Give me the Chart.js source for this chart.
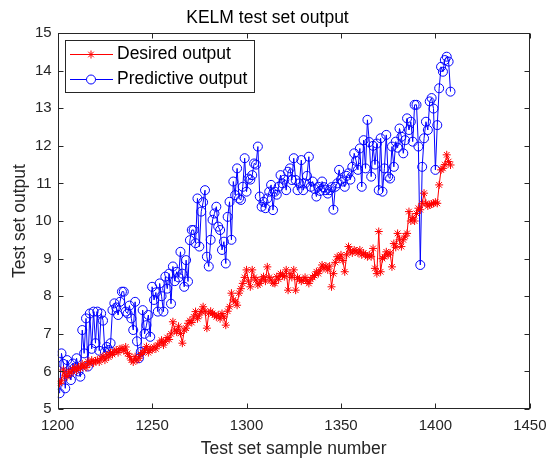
<!DOCTYPE html>
<html>
<head>
<meta charset="utf-8">
<script src="https://cdn.jsdelivr.net/npm/chart.js@4.4.1/dist/chart.umd.min.js"></script>
<style>
html, body { margin: 0; padding: 0; background: #fff; }
#wrap { width: 554px; height: 458px; }
</style>
</head>
<body>
<div id="wrap"><canvas id="chartKelm"></canvas></div>
<script>
// ================================
// DATOS
// ================================
const firstSample = 1201;

const desiredOutput = [
    5.68, 5.75, 6.04, 5.9, 5.86, 6.0, 5.95, 6.05, 6.1, 6.02,
    6.12, 6.08, 6.2, 6.15, 6.1, 6.26, 6.2, 6.3, 6.22, 6.28,
    6.3, 6.25, 6.35, 6.4, 6.3, 6.44, 6.38, 6.5, 6.45, 6.52,
    6.57, 6.5, 6.6, 6.61, 6.55, 6.65, 6.48, 6.4, 6.3, 6.25,
    6.39, 6.3, 6.35, 6.45, 6.5, 6.55, 6.66, 6.5, 6.6, 6.57,
    6.65, 6.6, 6.7, 6.75, 6.83, 6.7, 6.8, 6.9, 6.85, 7.0,
    7.32, 7.1, 7.05, 7.2, 7.01, 6.75, 7.1, 7.15, 7.28, 7.35,
    7.3, 7.45, 7.59, 7.4, 7.5, 7.6, 7.72, 7.6, 7.15, 7.55,
    7.6, 7.54, 7.5, 7.45, 7.5, 7.4, 7.54, 7.45, 7.23, 7.6,
    7.72, 8.08, 7.9, 7.85, 7.76, 8.08, 8.2, 8.34, 8.5, 8.7,
    8.4, 8.25, 8.7, 8.5, 8.43, 8.3, 8.34, 8.45, 8.52, 8.4,
    8.78, 8.5, 8.43, 8.35, 8.34, 8.52, 8.45, 8.6, 8.55, 8.52,
    8.7, 8.16, 8.6, 8.5, 8.7, 8.16, 8.5, 8.45, 8.4, 8.43,
    8.5, 8.4, 8.34, 8.45, 8.5, 8.55, 8.65, 8.6, 8.7, 8.83,
    8.75, 8.8, 8.7, 8.8, 8.25, 8.6, 8.9, 9.05, 9.0, 9.1,
    8.95, 8.65, 9.1, 9.32, 9.2, 9.15, 9.23, 9.2, 9.15, 9.23,
    9.1, 9.15, 9.1, 9.05, 9.1, 9.05, 9.27, 8.74, 8.6, 9.72,
    8.65, 9.0, 9.05, 9.18, 9.1, 9.15, 8.78, 9.4, 9.3, 9.67,
    9.5, 9.32, 9.5, 9.6, 9.67, 10.25, 10.0, 10.1, 10.0, 10.2,
    10.34, 10.3, 10.47, 10.74, 10.47, 10.4, 10.43, 10.45, 10.47, 10.5,
    10.47, 10.96, 11.36, 11.4, 11.5, 11.76, 11.58, 11.49
];

const predictiveOutput = [
    5.42, 6.48, 6.2, 5.55, 6.3, 5.95, 5.77, 6.21, 6.1, 6.35,
    6.0, 5.86, 7.1, 6.48, 7.41, 6.13, 7.54, 6.6, 7.59, 6.75,
    7.59, 6.55, 7.54, 7.35, 6.52, 6.65, 6.57, 6.75, 7.63, 7.81,
    7.7, 7.5, 7.85, 8.12, 8.12, 7.59, 7.54, 7.75, 7.41, 7.1,
    7.85, 6.8, 6.35, 6.52, 7.63, 7.0, 7.23, 7.5, 6.92, 8.25,
    7.9, 8.1, 7.59, 8.34, 8.0, 7.59, 8.52, 8.2, 8.6, 7.8,
    8.79, 8.4, 8.65, 8.5, 9.18, 8.6, 8.25, 8.96, 8.39, 9.49,
    9.76, 9.76, 9.41, 10.6, 9.32, 10.25, 10.5, 10.82, 9.05, 8.79,
    9.5, 10.03, 10.2, 10.38, 9.85, 9.76, 9.23, 9.45, 8.87, 10.11,
    10.51, 9.5, 11.05, 10.69, 11.4, 10.6, 10.56, 10.91, 11.67, 10.78,
    11.13, 11.1, 11.22, 11.53, 11.5, 11.98, 10.65, 10.38, 10.51, 10.34,
    10.6, 10.78, 10.96, 10.29, 10.78, 10.7, 10.91, 11.22, 11.0, 11.1,
    10.82, 11.31, 11.4, 11.09, 11.67, 11.09, 10.82, 11.0, 11.62, 10.82,
    11.0, 11.2, 11.71, 10.91, 11.05, 10.85, 10.65, 10.91, 10.8, 11.05,
    10.9, 10.82, 10.73, 10.82, 10.9, 10.3, 10.91, 11.0, 11.36, 11.1,
    11.05, 10.91, 11.2, 11.27, 11.1, 11.44, 11.8, 11.6, 11.36, 11.93,
    10.91, 12.15, 11.4, 12.69, 12.1, 11.18, 12.0, 11.5, 12.06, 10.82,
    12.2, 10.78, 11.4, 12.29, 11.18, 11.13, 11.98, 11.44, 12.11, 11.95,
    12.46, 12.24, 11.8, 12.15, 12.73, 12.42, 12.64, 12.11, 13.09, 13.09,
    11.98, 8.83, 11.44, 12.2, 12.64, 12.42, 13.18, 13.27, 12.99, 11.36,
    12.55, 13.53, 14.1, 13.97, 14.28, 14.37, 14.24, 13.44
];

const xTicks = [1200, 1250, 1300, 1350, 1400, 1450];
const yTicks = [5, 6, 7, 8, 9, 10, 11, 12, 13, 14, 15];

const seriesNames = ["Desired output", "Predictive output"];

// ================================
// MARCO, TICKS INTERIORES Y LEYENDA (estilo MATLAB)
// ================================
function linea(ctx, x1, y1, x2, y2) {
    ctx.beginPath();
    ctx.moveTo(x1, y1);
    ctx.lineTo(x2, y2);
    ctx.stroke();
}

const fuente = "'Liberation Sans', Arial, sans-serif";

const marcoMatlab = {
    id: "marcoMatlab",
    afterDatasetsDraw(chart) {
        const { ctx, chartArea: a, scales } = chart;
        ctx.save();

        // leyenda
        const lx = Math.round(a.left) + 7, ly = Math.round(a.top) + 7, lw = 189, lh = 52;
        ctx.fillStyle = "#fff";
        ctx.fillRect(lx, ly, lw, lh);
        ctx.strokeStyle = "#262626";
        ctx.lineWidth = 1;
        ctx.strokeRect(lx + 0.5, ly + 0.5, lw, lh);

        const filas = [ly + 14, ly + 39];
        ctx.font = "17.5px " + fuente;
        ctx.textBaseline = "middle";
        chart.data.datasets.forEach((ds, i) => {
            const y = filas[i] + 0.5;
            const cx = lx + 26;
            ctx.strokeStyle = ds.borderColor;
            ctx.lineWidth = 1;
            linea(ctx, lx + 5, y, lx + 48, y);
            if (ds.pointStyle === "star") {
                const r = 4;
                linea(ctx, cx - r, y, cx + r, y);
                linea(ctx, cx, y - r, cx, y + r);
                linea(ctx, cx - r * 0.7, y - r * 0.7, cx + r * 0.7, y + r * 0.7);
                linea(ctx, cx - r * 0.7, y + r * 0.7, cx + r * 0.7, y - r * 0.7);
            } else {
                ctx.fillStyle = "#fff";
                ctx.beginPath();
                ctx.arc(cx, y, 4.5, 0, Math.PI * 2);
                ctx.fill();
                ctx.stroke();
            }
            ctx.fillStyle = "#000";
            ctx.fillText(ds.label, lx + 52, y);
        });

        // caja
        ctx.strokeStyle = "#262626";
        ctx.lineWidth = 1;
        const L = Math.round(a.left) + 0.5, R = Math.round(a.right) - 0.5;
        const T = Math.round(a.top) + 0.5, B = Math.round(a.bottom) - 0.5;
        ctx.strokeRect(L, T, R - L, B - T);

        // ticks hacia dentro
        const tl = 5;
        xTicks.forEach(v => {
            const px = Math.round(scales.x.getPixelForValue(v)) + 0.5;
            linea(ctx, px, B, px, B - tl);
            linea(ctx, px, T, px, T + tl);
        });
        yTicks.forEach(v => {
            const py = Math.round(scales.y.getPixelForValue(v)) + 0.5;
            linea(ctx, L, py, L + tl, py);
            linea(ctx, R, py, R - tl, py);
        });
        ctx.restore();
    }
};

// ================================
// GRAFICO
// ================================
new Chart(document.getElementById("chartKelm"), {
    type: "scatter",
    data: {
        datasets: [{
            label: seriesNames[0],
            data: desiredOutput.map((v, i) => ({ x: firstSample + i, y: v })),
            showLine: true,
            borderColor: "#ff0000",
            backgroundColor: "#ff0000",
            borderWidth: 1,
            pointStyle: "star",
            pointRadius: 4,
            pointBorderWidth: 1
        }, {
            label: seriesNames[1],
            data: predictiveOutput.map((v, i) => ({ x: firstSample + i, y: v })),
            showLine: true,
            borderColor: "#0000ff",
            backgroundColor: "rgba(0,0,0,0)",
            borderWidth: 1,
            pointStyle: "circle",
            pointRadius: 4.5,
            pointBorderWidth: 1
        }]
    },
    options: {
        responsive: true,
        maintainAspectRatio: false,
        animation: false,
        layout: { padding: { left: 0, right: 19, top: 0, bottom: 0 } },
        plugins: {
            legend: { display: false },
            tooltip: { enabled: false },
            title: {
                display: true,
                text: "KELM test set output",
                color: "#000",
                font: { family: fuente, size: 17.5, weight: "normal" },
                padding: { top: 8, bottom: 4 }
            }
        },
        scales: {
            x: {
                type: "linear",
                min: 1200,
                max: 1450,
                afterBuildTicks: s => { s.ticks = xTicks.map(v => ({ value: v })); },
                afterFit: s => { s.height = 49; },
                grid: { display: false, drawTicks: false },
                border: { display: false },
                ticks: {
                    color: "#262626",
                    font: { family: fuente, size: 15 },
                    padding: 7.5,
                    maxRotation: 0,
                    autoSkip: false,
                    callback: v => String(v)
                },
                title: {
                    display: true,
                    text: "Test set sample number",
                    color: "#262626",
                    font: { family: fuente, size: 17.5, lineHeight: 1 },
                    padding: { top: 0, bottom: 0 }
                }
            },
            y: {
                min: 5,
                max: 15,
                afterBuildTicks: s => { s.ticks = yTicks.map(v => ({ value: v })); },
                afterFit: s => { s.width = 57.7; },
                grid: { display: false, drawTicks: false },
                border: { display: false },
                ticks: {
                    color: "#262626",
                    font: { family: fuente, size: 15 },
                    padding: 6,
                    autoSkip: false,
                    callback: v => String(v)
                },
                title: {
                    display: true,
                    text: "Test set output",
                    color: "#262626",
                    font: { family: fuente, size: 17.5 },
                    padding: { top: 9.5, bottom: 0 }
                }
            }
        }
    },
    plugins: [marcoMatlab]
});
</script>
</body>
</html>
